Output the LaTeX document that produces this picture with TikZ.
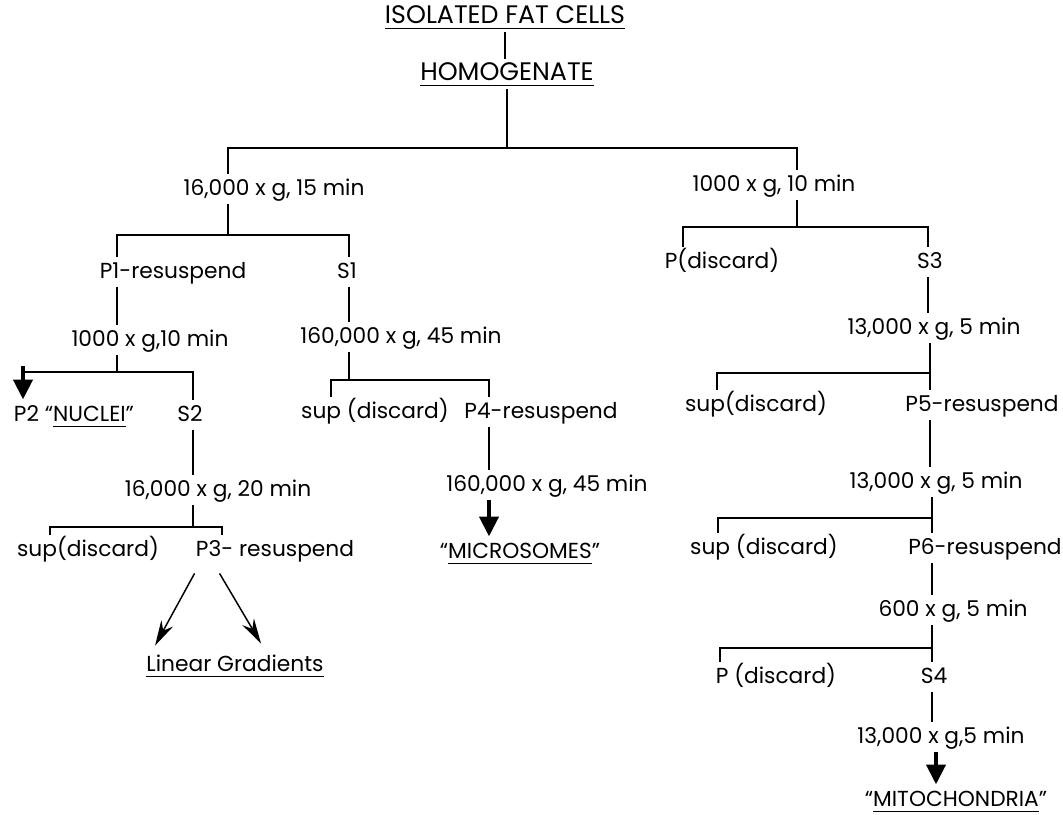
\documentclass[tikz,border=0pt]{standalone}
\usepackage{fontspec}
\setmainfont{Poppins}
\usepackage{tikz}
\usetikzlibrary{arrows.meta, calc}
\newcommand{\ulword}[1]{\setbox0\hbox{#1}\rlap{\rule[-4pt]{\wd0}{1.1pt}}\box0}

\begin{document}
\begin{tikzpicture}[x=0.75pt,y=-0.75pt,line width=1.1pt,
    font=\fontsize{16.3}{19}\selectfont,
    every node/.style={inner xsep=2pt,inner ysep=4pt,text height=12pt,text depth=2pt},
    title/.style={font=\fontsize{19}{22}\selectfont},
    heavy/.style={line width=3.6pt,-{Triangle[length=15pt,width=14pt]}},
    thin/.style={-{Stealth[length=19pt,width=10pt]}}]
    \useasboundingbox (0,0) rectangle (1063,814);
    % top
    \node[title] (cells) at (505,17) {\ulword{ISOLATED FAT CELLS}};
    \node[title] (homog) at (507,74) {\ulword{HOMOGENATE}};
    \node (gA) at (274,189) {16,000 x g, 15 min};
    \node (gB) at (774,185) {1000 x g, 10 min};
    % left branch
    \node (p1) at (173,272) {P1-resuspend};
    \node (s1) at (347,272) {S1};
    \node (gC) at (150,340) {1000 x g,10 min};
    \node (gD) at (401,337) {160,000 x g, 45 min};
    \node (p2) at (74,415) {P2 “\ulword{NUCLEI}”};
    \node (s2) at (190,415) {S2};
    \node (gE) at (218,490) {16,000 x g, 20 min};
    \node (sup1) at (88,550) {sup(discard)};
    \node (p3) at (275,550) {P3- resuspend};
    \node (lin) at (235,665) {\ulword{Linear Gradients}};
    % middle branch
    \node (sup2) at (375,412) {sup (discard)};
    \node (p4) at (541,412) {P4-resuspend};
    \node (gF) at (547,485) {160,000 x g, 45 min};
    \node (micro) at (520,552) {“\ulword{MICROSOMES}”};
    % right branch
    \node (pd1) at (722,262) {P(discard)};
    \node (s3) at (930,262) {S3};
    \node (gG) at (934,328) {13,000 x g, 5 min};
    \node (sup3) at (756,405) {sup(discard)};
    \node (p5) at (982,405) {P5-resuspend};
    \node (gH) at (936,482) {13,000 x g, 5 min};
    \node (sup4) at (764,548) {sup (discard)};
    \node (p6) at (985,548) {P6-resuspend};
    \node (gI) at (953,610) {600 x g, 5 min};
    \node (pd2) at (776,677) {P (discard)};
    \node (s4) at (934,677) {S4};
    \node (gJ) at (941,737) {13,000 x g,5 min};
    \node (mito) at (956,800) {“\ulword{MITOCHONDRIA}”};

    % bars
    \coordinate (b1l) at (228,148); \coordinate (b1r) at (797,148);
    \coordinate (b2l) at (117,235); \coordinate (b2r) at (349,235);
    \coordinate (b3l) at (23,372);  \coordinate (b3r) at (193,372);
    \coordinate (b4l) at (50,527);  \coordinate (b4r) at (222,527);
    \coordinate (b5l) at (331,380); \coordinate (b5r) at (489,380);
    \coordinate (b6l) at (683,227); \coordinate (b6r) at (928,227);
    \coordinate (b7l) at (717,373); \coordinate (b7r) at (930,373);
    \coordinate (b8l) at (718,518); \coordinate (b8r) at (932,518);
    \coordinate (b9l) at (720,648); \coordinate (b9r) at (932,648);

    \draw (cells.south) -- (cells.south |- homog.north);
    \draw (homog.south) -- (homog.south |- b1l);
    \draw (gA.north -| b1l) -- (b1l) -- (b1r) -- (gB.north -| b1r);
    % left
    \draw (gA.south -| b1l) -- (b1l |- b2l);
    \draw (p1.north -| b2l) -- (b2l) -- (b2r) -- (s1.north -| b2r);
    \draw (p1.south -| b2l) -- (gC.north -| b2l);
    \draw (s1.south -| b2r) -- (gD.north -| b2r);
    \draw (gC.south -| b2l) -- (b2l |- b3l);
    \draw (b3l) -- (b3r) -- (s2.north -| b3r);
    \draw[heavy] ($(b3l)+(0,-6)$) -- (p2.north -| b3l);
    \draw (s2.south -| b3r) -- (gE.north -| b3r);
    \draw (gE.south -| b3r) -- (b3r |- b4l);
    \draw (sup1.north -| b4l) -- (b4l) -- (b4r) -- (p3.north -| b4r);
    \draw[thin] ($(p3.south west)+(2,8)$) -- ($(lin.north west)+(12,-4)$);
    \draw[thin] ($(p3.south west)+(27,8)$) -- ($(lin.north west)+(118,-6)$);
    % middle
    \draw (gD.south -| b2r) -- (b2r |- b5l);
    \draw (sup2.north -| b5l) -- (b5l) -- (b5r) -- (p4.north -| b5r);
    \draw (p4.south -| b5r) -- (gF.north -| b5r);
    \draw[heavy] (gF.south -| b5r) -- (micro.north -| b5r);
    % right
    \draw (gB.south -| b1r) -- (b1r |- b6l);
    \draw (pd1.north -| b6l) -- (b6l) -- (b6r) -- (s3.north -| b6r);
    \draw (s3.south -| b6r) -- (gG.north -| b6r);
    \draw (gG.south -| b7r) -- (b7r) -- (b7l) -- (sup3.north -| b7l);
    \draw (b7r) -- (p5.north -| b7r);
    \draw (p5.south -| b7r) -- (gH.north -| b7r);
    \draw (gH.south -| b8r) -- (b8r) -- (b8l) -- (sup4.north -| b8l);
    \draw (b8r) -- (p6.north -| b8r);
    \draw (p6.south -| b8r) -- (gI.north -| b8r);
    \draw (gI.south -| b9r) -- (b9r) -- (b9l) -- (pd2.north -| b9l);
    \draw (b9r) -- (s4.north -| b9r);
    \draw (s4.south -| b9r) -- (gJ.north -| b9r);
    \draw[heavy] ($(gJ.south -| b9r)+(4,0)$) -- ($(mito.north -| b9r)+(4,0)$);
\end{tikzpicture}
\end{document}
